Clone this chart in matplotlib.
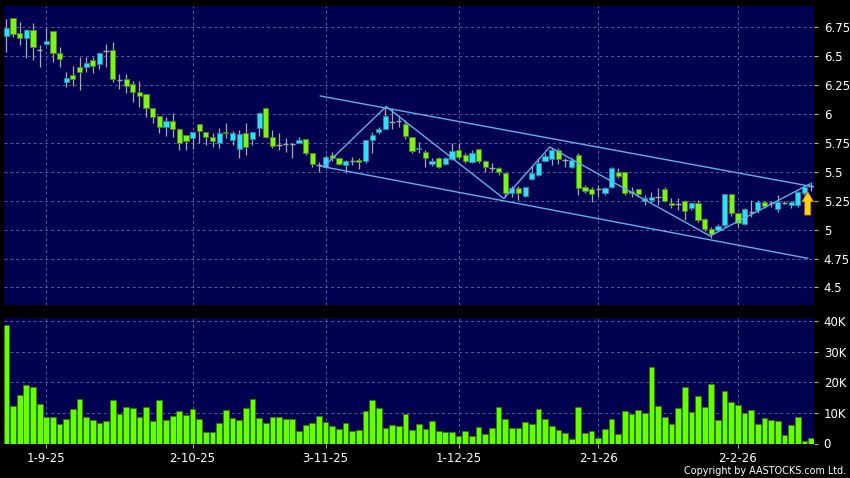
import matplotlib
matplotlib.use("Agg")
import matplotlib.pyplot as plt
import numpy as np

# ---- data ----
opens = [6.677, 6.827, 6.698, 6.654, 6.727, 6.556, 6.602, 6.718, 6.525, 6.280,
         6.334, 6.403, 6.403, 6.467, 6.430, 6.548, 6.553, 6.294, 6.300, 6.257,
         6.193, 6.170, 6.049, 5.983, 5.890, 5.942, 5.867, 5.818, 5.789, 5.910,
         5.847, 5.804, 5.752, 5.845, 5.775, 5.694, 5.833, 5.781, 5.876, 6.049,
         5.804, 5.732, 5.737, 5.737, 5.752, 5.781, 5.660, 5.559, 5.544, 5.645,
         5.616, 5.556, 5.596, 5.602, 5.596, 5.775, 5.847, 5.867, 5.934, 5.940,
         5.910, 5.804, 5.694, 5.674, 5.567, 5.622, 5.567, 5.610, 5.688, 5.645,
         5.588, 5.694, 5.593, 5.536, 5.530, 5.492, 5.314, 5.363, 5.291, 5.435,
         5.472, 5.596, 5.608, 5.688, 5.602, 5.544, 5.645, 5.371, 5.348, 5.348,
         5.314, 5.371, 5.495, 5.501, 5.334, 5.348, 5.247, 5.256, 5.279, 5.348,
         5.227, 5.219, 5.250, 5.184, 5.227, 5.089, 5.002, 4.997, 5.040, 5.308,
         5.140, 5.048, 5.155, 5.170, 5.240, 5.227, 5.175, 5.233, 5.213, 5.213,
         5.314, 5.377]
closes = [6.741, 6.689, 6.654, 6.727, 6.582, 6.556, 6.631, 6.525, 6.473, 6.308,
          6.300, 6.366, 6.438, 6.415, 6.525, 6.548, 6.300, 6.294, 6.242, 6.193,
          6.156, 6.049, 5.977, 5.890, 5.942, 5.867, 5.746, 5.769, 5.841, 5.853,
          5.798, 5.769, 5.838, 5.838, 5.838, 5.827, 5.717, 5.847, 6.006, 5.804,
          5.723, 5.732, 5.737, 5.737, 5.775, 5.660, 5.567, 5.559, 5.625, 5.616,
          5.567, 5.596, 5.596, 5.588, 5.775, 5.818, 5.867, 5.983, 5.934, 5.940,
          5.810, 5.683, 5.708, 5.616, 5.593, 5.544, 5.616, 5.683, 5.631, 5.596,
          5.660, 5.593, 5.544, 5.536, 5.501, 5.314, 5.363, 5.314, 5.366, 5.487,
          5.579, 5.637, 5.688, 5.608, 5.602, 5.602, 5.357, 5.337, 5.308, 5.348,
          5.363, 5.530, 5.464, 5.314, 5.314, 5.308, 5.270, 5.279, 5.279, 5.250,
          5.213, 5.219, 5.164, 5.227, 5.083, 5.002, 4.962, 5.031, 5.308, 5.140,
          5.054, 5.175, 5.155, 5.240, 5.207, 5.227, 5.240, 5.233, 5.236, 5.328,
          5.366, 5.377]
highs = [6.822, 6.827, 6.799, 6.732, 6.784, 6.597, 6.747, 6.718, 6.582, 6.366,
         6.415, 6.496, 6.496, 6.490, 6.525, 6.605, 6.626, 6.346, 6.346, 6.285,
         6.285, 6.170, 6.049, 5.983, 5.977, 6.006, 5.876, 5.818, 5.841, 5.910,
         5.847, 5.833, 5.876, 5.919, 5.850, 5.861, 5.919, 5.847, 6.006, 6.049,
         5.861, 5.833, 5.790, 5.752, 5.804, 5.781, 5.660, 5.588, 5.645, 5.674,
         5.616, 5.600, 5.630, 5.620, 5.775, 5.847, 5.890, 6.049, 6.049, 5.991,
         5.948, 5.804, 5.760, 5.690, 5.617, 5.630, 5.631, 5.752, 5.746, 5.660,
         5.688, 5.700, 5.600, 5.573, 5.545, 5.500, 5.377, 5.377, 5.366, 5.559,
         5.616, 5.660, 5.703, 5.703, 5.617, 5.617, 5.660, 5.386, 5.366, 5.386,
         5.371, 5.544, 5.530, 5.501, 5.371, 5.348, 5.299, 5.328, 5.357, 5.371,
         5.270, 5.270, 5.256, 5.242, 5.256, 5.098, 5.020, 5.048, 5.308, 5.308,
         5.146, 5.184, 5.256, 5.256, 5.250, 5.250, 5.300, 5.245, 5.250, 5.335,
         5.390, 5.410]
lows = [6.539, 6.669, 6.597, 6.481, 6.467, 6.409, 6.597, 6.453, 6.409, 6.236,
        6.242, 6.207, 6.366, 6.352, 6.386, 6.409, 6.280, 6.213, 6.184, 6.107,
        6.063, 5.977, 5.919, 5.833, 5.810, 5.798, 5.688, 5.688, 5.694, 5.746,
        5.732, 5.711, 5.703, 5.789, 5.732, 5.616, 5.645, 5.732, 5.810, 5.789,
        5.703, 5.688, 5.674, 5.616, 5.746, 5.645, 5.539, 5.501, 5.530, 5.596,
        5.560, 5.487, 5.560, 5.521, 5.573, 5.665, 5.830, 5.867, 5.867, 5.890,
        5.781, 5.660, 5.660, 5.544, 5.550, 5.530, 5.560, 5.600, 5.608, 5.573,
        5.580, 5.573, 5.501, 5.501, 5.472, 5.285, 5.285, 5.256, 5.285, 5.430,
        5.465, 5.590, 5.559, 5.567, 5.545, 5.530, 5.300, 5.314, 5.242, 5.285,
        5.300, 5.357, 5.443, 5.299, 5.279, 5.285, 5.213, 5.227, 5.213, 5.242,
        5.184, 5.170, 5.083, 5.170, 5.069, 4.991, 4.924, 4.990, 5.025, 5.117,
        5.020, 5.040, 5.112, 5.140, 5.190, 5.200, 5.155, 5.220, 5.190, 5.200,
        5.300, 5.330]
volumes_k = [38.7, 12.2, 16.0, 19.2, 18.4, 13.0, 8.8, 8.5, 6.3, 8.1,
             11.3, 14.7, 8.7, 7.6, 6.8, 7.4, 14.3, 9.6, 11.9, 11.7,
             8.5, 12.0, 7.3, 14.1, 7.7, 8.9, 10.6, 9.2, 11.3, 8.0,
             3.7, 3.8, 6.7, 10.9, 8.4, 7.7, 11.6, 14.4, 8.4, 6.7,
             8.5, 8.6, 8.0, 8.1, 4.1, 6.0, 6.7, 8.9, 6.9, 5.6,
             4.6, 6.7, 4.0, 4.4, 10.7, 14.2, 11.6, 5.0, 6.0, 5.6,
             9.5, 4.4, 6.5, 4.7, 7.4, 4.0, 3.7, 3.7, 2.5, 4.1,
             2.6, 5.5, 3.1, 5.0, 12.0, 8.1, 5.0, 5.0, 7.0, 6.3,
             11.2, 7.9, 5.8, 4.5, 3.3, 1.4, 11.9, 3.4, 4.1, 1.9,
             4.7, 8.0, 3.1, 10.7, 9.5, 11.0, 10.0, 25.1, 12.2, 8.8,
             6.4, 11.7, 18.3, 10.3, 15.4, 11.9, 19.5, 7.6, 17.3, 13.5,
             12.5, 10.0, 10.8, 6.4, 8.3, 7.7, 7.3, 2.8, 6.2, 8.7,
             0.9, 1.7]

date_pos = [6, 28, 48, 68, 89, 110]
date_labels = ["1-9-25", "2-10-25", "3-11-25", "1-12-25", "2-1-26", "2-2-26"]
price_ticks = [4.5, 4.75, 5.0, 5.25, 5.5, 5.75, 6.0, 6.25, 6.5, 6.75]
vol_ticks = [0, 10, 20, 30, 40]
vol_labels = ["0", "10K", "20K", "30K", "40K"]

# hand-drawn trend lines: (bar index, price)
zigzag_x = [47.9, 57.1, 74.8, 81.7, 105.8, 120.8]
zigzag_y = [5.555, 6.065, 5.269, 5.715, 4.945, 5.395]
upper_x, upper_y = [47.2, 121.3], [6.156, 5.371]
lower_x, lower_y = [47.2, 120.5], [5.549, 4.752]
arrow_x, arrow_from, arrow_to = 120.5, 5.126, 5.328

# ---- styling ----
BG = "#000050"
GRID = "#5a5a9c"
UP = "#33ddf5"
DOWN = "#7ff020"
WICK = "#a8a8a8"
LINE = "#5cb0ec"

plt.rcParams["font.family"] = ["DejaVu Sans"]

fig = plt.figure(figsize=(8.5, 4.78), dpi=100, facecolor="black")
ax_p = fig.add_axes([4 / 850, 1 - 305 / 478, 810 / 850, 299.3 / 478])
ax_v = fig.add_axes([4 / 850, 1 - 443.5 / 478, 810 / 850, 125.2 / 478])

o = np.array(opens)
c = np.array(closes)
h = np.array(highs)
l = np.array(lows)
x = np.arange(len(o))

for ax in (ax_p, ax_v):
    ax.set_facecolor(BG)
    for s in ax.spines.values():
        s.set_visible(False)
    ax.set_xlim(-0.36, 121.44)
    ax.yaxis.tick_right()
    ax.tick_params(axis="y", colors="#b0b0b0", labelcolor="white", length=3,
                   pad=4, labelsize=8.5)
    ax.set_xticks(date_pos)
    ax.grid(True, color=GRID, linestyle=(0, (3, 3)), linewidth=0.7)
    ax.set_axisbelow(True)

# price panel
ax_p.set_ylim(4.348, 6.937)
ax_p.set_yticks(price_ticks)
ax_p.set_yticklabels([f"{t:g}" for t in price_ticks])
ax_p.tick_params(axis="x", length=0, labelbottom=False)

ax_p.vlines(x, l, h, color=WICK, linewidth=0.9, zorder=2)
up = c > o
down = c < o
flat = ~(up | down)
ax_p.bar(x[up], (c - o)[up], bottom=o[up], width=0.78, color=UP,
         edgecolor="#1a8aa0", linewidth=0.6, zorder=3)
ax_p.bar(x[down], (o - c)[down], bottom=c[down], width=0.78, color=DOWN,
         edgecolor="#3f8a10", linewidth=0.6, zorder=3)
ax_p.hlines(c[flat], x[flat] - 0.4, x[flat] + 0.4, color=WICK, linewidth=1.0, zorder=3)

ax_p.plot(zigzag_x, zigzag_y, color=LINE, linewidth=1.0, zorder=4)
ax_p.plot(upper_x, upper_y, color=LINE, linewidth=1.0, zorder=4)
ax_p.plot(lower_x, lower_y, color=LINE, linewidth=1.0, zorder=4)

# yellow up-arrow marker
ax_p.arrow(arrow_x, arrow_from, 0, arrow_to - arrow_from, width=0.9,
           head_width=1.75, head_length=0.087, length_includes_head=True,
           fc="#ffd21a", ec="#c08000", lw=0.6, zorder=5)

# volume panel
ax_v.set_ylim(0, 40.9)
ax_v.set_yticks(vol_ticks)
ax_v.set_yticklabels(vol_labels)
ax_v.bar(x, volumes_k, width=0.86, color="#66ff00", edgecolor="#2f7a00",
         linewidth=0.6, zorder=3)
ax_v.set_xticklabels(date_labels)
ax_v.tick_params(axis="x", colors="#b0b0b0", labelcolor="white", length=3,
                 pad=3, labelsize=8.5)

fig.text(846 / 850, 1 - 471 / 478, "Copyright by AASTOCKS.com Ltd.",
         ha="right", va="center", color="white", fontsize=6.9)

fig.savefig("out.png", dpi=100, facecolor="black")
